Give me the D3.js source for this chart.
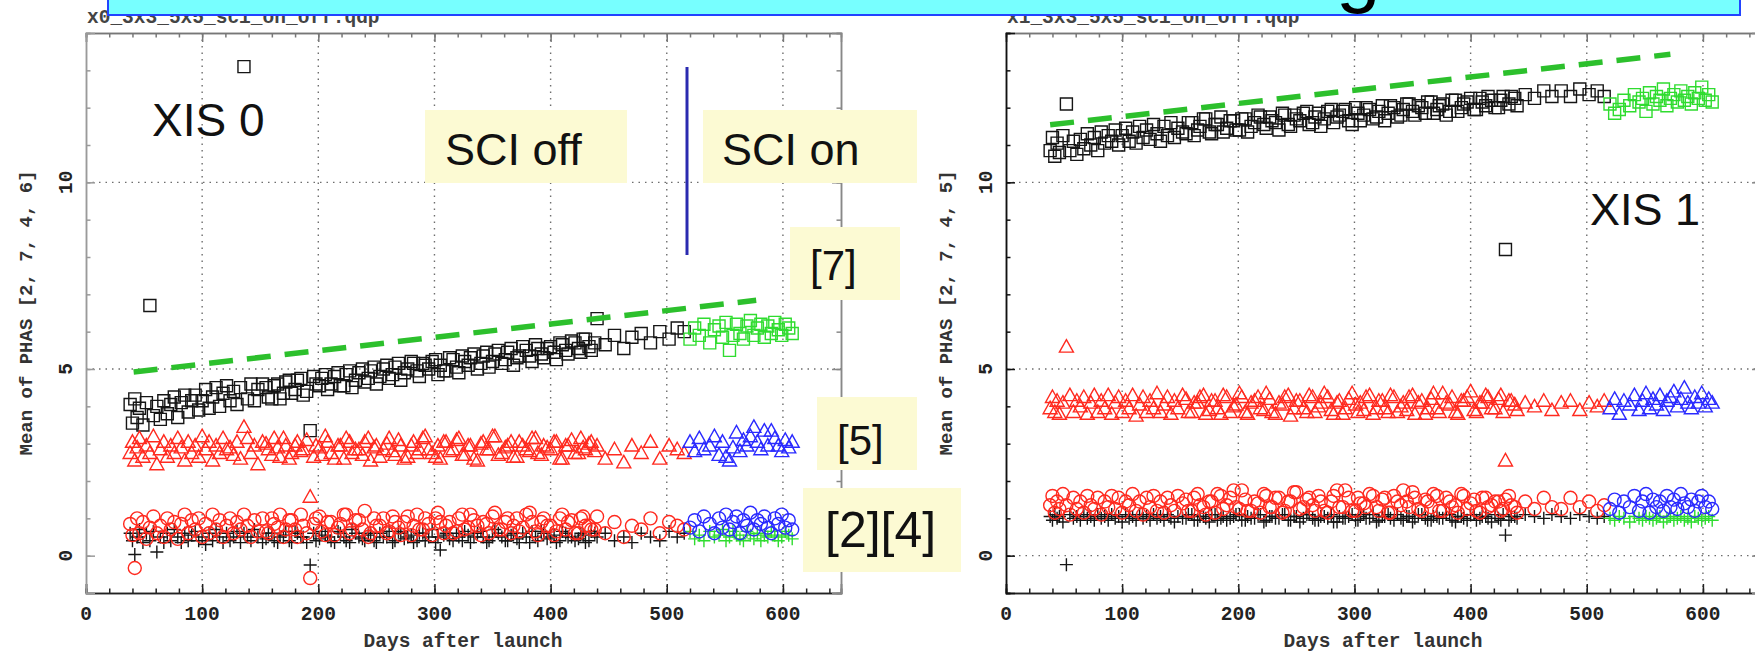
<!DOCTYPE html>
<html><head><meta charset="utf-8">
<script src="https://cdn.jsdelivr.net/npm/d3@7"></script>
<style>body{margin:0;background:#fff}svg{display:block}</style>
</head><body><svg id="c" width="1755" height="653"></svg>
<script>
// ---------- DATA ----------
const daysOff = [38,40,42,44,46,49,52,55,58,61,
 64,67,70,73,76,79,82,85,88,91,
 94,97,100,103,106,109,112,115,118,121,
 124,127,130,133,136,139,142,145,148,152,
 157,162,167,172,177,182,187,193,198,203,
 208,214,219,224,229,235,240,245,250,256,
 261,266,271,277,282,287,292,298,303,305,
 310,316,321,326,331,337,342,347,352,358,
 363,368,373,379,384,389,394,400,405,410,
 415,421,426,430,435,440,447,455,463,470,
 478,486,494,502,509,515];
const daysOff2 = [155,160,165,170,175,180,185,190,196,201,
 206,211,217,222,227,232,238,243,248,253,
 259,264,269,274,280,285,290,295,301,308,
 313,319,324,329,334,340,345,350,355,361,
 366,371,376,382,387,392,397,403,408,413,
 418,424,428,433,438];
const daysOn = [520,524,528,532,537,541,545,548,551,554,557,560,563,566,569,572,575,578,581,584,587,590,593,596,599,602,605,608];

// XIS 0
const sq0Off = [4.05,3.55,4.2,3.7,3.95,3.5,4.1,6.7,3.75,4.0,
 3.65,4.15,3.8,4.05,4.25,3.7,4.1,4.3,3.85,4.15,
 4.3,3.9,4.15,4.45,3.95,4.25,4.5,4.0,4.35,4.55,
 4.15,4.4,4.05,4.5,13.1,4.2,4.6,4.15,4.45,4.6,
 4.25,4.55,4.2,4.65,4.35,4.7,4.3,3.35,4.6,4.75,
 4.45,4.8,4.55,4.85,4.5,4.9,4.65,4.95,4.6,5.0,
 4.75,5.05,4.7,5.0,5.15,4.8,5.1,5.2,4.85,5.1,
 4.95,5.25,4.9,5.2,5.3,5.0,5.35,5.05,5.4,5.15,
 5.45,5.1,5.35,5.5,5.2,5.55,5.3,5.6,5.25,5.65,
 5.4,5.7,5.45,5.8,5.5,6.35,5.65,5.9,5.55,5.85,
 5.95,5.7,6.0,5.8,6.1,6.0];
const sq0Off2 = [4.5,4.2,4.6,4.35,4.7,4.45,4.75,4.4,4.8,4.55,
 4.85,4.6,4.9,4.55,4.95,4.7,5.0,4.75,5.05,4.8,
 5.1,4.85,5.15,4.9,5.2,4.95,5.15,5.0,5.25,4.95,
 5.3,5.05,5.35,5.1,5.4,5.15,5.45,5.2,5.5,5.25,
 5.55,5.3,5.6,5.35,5.65,5.4,5.55,5.45,5.7,5.5,
 5.75,5.55,5.8,5.6,5.7];
const sq0On = [5.8,6.1,5.9,6.2,5.7,6.05,6.15,5.85,6.25,5.5,5.9,6.2,5.95,5.8,6.15,6.3,5.9,6.1,6.2,5.85,6.15,5.95,6.25,6.05,5.9,6.2,6.1,5.95];
const tri0Off = [2.75,3.05,2.55,2.9,3.15,2.65,2.95,2.75,3.2,2.45,
 2.85,3.05,2.65,2.95,2.75,3.15,2.9,2.55,3.05,2.75,
 2.95,2.65,3.2,2.85,3.05,2.55,2.95,2.75,3.15,2.85,
 2.9,2.7,3.05,2.6,3.45,3.15,2.75,2.95,2.45,3.05,
 2.85,3.15,2.65,2.95,2.75,3.05,2.85,1.58,2.95,2.7,
 3.05,2.6,2.95,3.15,2.75,2.85,3.05,2.55,2.95,2.85,
 3.15,2.7,2.95,2.65,3.05,2.85,3.2,2.75,2.95,2.6,
 3.05,2.85,3.15,2.7,2.95,2.55,3.05,2.85,3.2,2.75,
 2.95,2.65,3.05,2.85,3.15,2.75,2.95,2.85,3.05,2.6,
 2.95,2.75,3.15,2.85,3.05,2.95,2.6,2.85,2.5,2.95,
 2.75,3.05,2.6,2.95,2.85,2.75];
const tri0Off2 = [3.0,2.7,2.9,3.15,2.6,2.95,2.8,3.1,2.65,2.9,
 3.2,2.75,2.95,2.6,3.05,2.85,2.7,3.15,2.9,2.65,
 3.0,2.8,3.1,2.6,2.95,2.75,3.15,2.85,2.65,3.05,
 2.8,3.1,2.7,2.95,2.6,3.0,2.85,3.2,2.7,2.9,
 3.05,2.65,2.95,2.8,3.15,2.7,2.9,3.05,2.6,2.95,
 3.1,2.75,2.9,3.0,2.8];
const tri0On = [3.05,2.8,3.15,2.85,2.95,3.2,2.7,3.05,2.65,2.55,2.9,3.3,2.8,3.1,2.95,3.2,3.45,3.05,2.85,3.35,2.95,3.35,3.15,2.95,2.8,3.1,2.9,3.05];
const circ0Off = [0.85,0.55,-0.33,1.0,0.6,0.9,0.45,0.75,1.05,0.6,
 0.8,0.5,1.0,0.7,0.9,0.45,0.85,1.1,0.6,0.95,
 0.7,1.0,0.5,0.85,0.6,1.1,0.7,0.95,0.5,0.8,
 1.0,0.6,0.9,0.7,1.1,0.8,0.5,0.95,0.65,1.0,
 0.6,0.85,1.1,0.7,0.95,0.5,0.8,-0.6,1.0,0.65,
 0.9,0.55,0.85,1.1,0.7,0.95,1.2,0.6,0.8,1.0,
 0.65,0.9,0.55,1.05,0.8,0.7,1.0,0.55,1.15,0.9,
 0.8,0.6,1.0,0.7,1.1,0.8,0.9,0.6,1.15,0.7,
 1.0,0.8,0.65,1.1,0.9,0.55,1.0,0.8,0.65,1.1,
 0.9,0.6,1.0,0.8,0.7,1.05,0.6,0.9,0.5,0.8,
 0.7,1.0,0.6,0.9,0.8,0.7];
const circ0Off2 = [0.65,1.0,0.75,0.5,0.95,0.7,1.1,0.6,0.85,1.05,
 0.55,0.9,0.75,1.1,0.6,0.95,0.7,0.5,1.0,0.8,
 0.6,1.05,0.75,0.9,0.55,1.1,0.7,0.85,1.0,0.6,
 0.9,0.65,1.1,0.75,0.95,0.55,0.85,1.05,0.7,0.9,
 0.6,1.0,0.75,1.15,0.65,0.9,0.8,0.55,1.0,0.7,
 0.95,0.6,1.05,0.8,0.7];
const circ0On = [0.75,0.95,0.65,1.05,0.85,0.6,1.0,0.75,1.1,0.7,0.9,1.05,0.6,0.95,0.8,1.15,0.7,0.95,0.85,1.05,0.75,0.6,1.0,0.85,1.1,0.75,0.95,0.7];
const plus0Off = [0.6,0.4,0.03,0.5,0.7,0.35,0.6,0.4,0.65,0.1,
 0.5,0.35,0.6,0.4,0.7,0.5,0.35,0.6,0.4,0.55,
 0.65,0.4,0.5,0.3,0.6,0.4,0.7,0.5,0.35,0.6,
 0.4,0.5,0.65,0.35,0.6,0.5,0.4,0.7,0.5,0.35,
 0.6,0.4,0.5,0.65,0.35,0.6,0.5,-0.25,0.4,0.65,
 0.5,0.35,0.6,0.4,0.7,0.5,0.4,0.6,0.35,0.5,
 0.65,0.4,0.6,0.5,0.35,0.6,0.4,0.7,0.5,0.15,
 0.6,0.4,0.5,0.65,0.35,0.6,0.5,0.4,0.7,0.5,
 0.4,0.6,0.35,0.5,0.65,0.4,0.6,0.5,0.35,0.65,
 0.5,0.4,0.6,0.35,0.65,0.5,0.6,0.4,0.5,0.35,
 0.6,0.5,0.4,0.65,0.5,0.6];
const plus0Off2 = [0.45,0.6,0.35,0.55,0.4,0.65,0.5,0.35,0.6,0.45,
 0.55,0.4,0.65,0.5,0.35,0.6,0.45,0.55,0.4,0.6,
 0.5,0.35,0.65,0.45,0.55,0.4,0.6,0.5,0.35,0.55,
 0.45,0.6,0.4,0.55,0.5,0.65,0.35,0.5,0.6,0.4,
 0.55,0.45,0.6,0.35,0.5,0.65,0.45,0.55,0.4,0.6,
 0.5,0.45,0.55,0.4,0.6];
const plus0On = [0.65,0.45,0.55,0.4,0.65,0.5,0.55,0.7,0.4,0.5,0.65,0.55,0.45,0.4,0.65,0.55,0.45,0.6,0.4,0.55,0.5,0.65,0.55,0.4,0.5,0.65,0.55,0.45];
const fit0Days = [41, 577];
const fit0Vals = [4.92, 6.84];

// XIS 1
const sq1Off = [10.85,11.2,10.7,11.05,10.8,11.25,12.1,10.85,11.1,10.75,
 11.15,10.9,11.3,11.0,11.2,10.85,11.35,11.05,11.25,11.1,
 11.4,11.0,11.25,11.45,11.1,11.35,11.05,11.5,11.2,11.4,
 11.15,11.55,11.3,11.1,11.5,11.25,11.6,11.2,11.45,11.35,
 11.6,11.25,11.5,11.7,11.3,11.55,11.35,11.65,11.4,11.7,
 11.35,11.6,11.75,11.45,11.65,11.4,11.8,11.5,11.7,11.85,
 11.55,11.75,11.5,11.9,11.6,11.8,11.95,11.55,11.85,11.65,
 12.0,11.7,11.9,11.65,12.05,11.75,11.95,12.1,11.8,12.0,
 12.15,11.85,12.05,11.8,12.2,11.9,12.1,12.25,11.95,12.15,
 12.3,12.0,12.2,8.2,12.3,12.05,12.35,12.25,12.45,12.3,
 12.45,12.3,12.5,12.35,12.45,12.3];
const sq1Off2 = [11.3,11.6,11.4,11.7,11.35,11.55,11.75,11.45,11.65,11.4,
 11.7,11.5,11.8,11.55,11.75,11.6,11.85,11.55,11.8,11.65,
 11.9,11.6,11.85,11.7,11.95,11.75,11.9,11.65,12.0,11.8,
 11.95,11.75,12.05,11.85,12.0,11.8,12.1,11.9,12.05,11.85,
 12.15,11.95,12.1,11.9,12.2,12.0,12.15,11.95,12.25,12.05,
 12.2,12.0,12.3,12.1,12.25];
const sq1On = [12.1,11.85,11.95,12.2,12.05,12.35,12.15,12.25,11.9,12.4,12.1,12.3,12.2,12.5,12.05,12.25,12.35,12.15,12.45,12.2,12.3,12.1,12.4,12.25,12.55,12.2,12.35,12.15];
const tri1Off = [3.95,4.25,3.85,4.15,3.8,4.1,5.6,4.3,3.85,4.15,
 4.0,4.25,3.8,4.1,4.3,3.85,4.15,3.95,4.3,3.8,
 4.1,4.25,3.85,4.15,3.95,4.3,3.75,4.05,4.25,3.85,
 4.15,3.95,4.35,3.85,4.05,4.25,3.8,4.15,3.95,4.3,
 3.85,4.1,4.25,3.8,4.15,3.95,4.3,3.85,4.05,4.25,
 3.8,4.15,3.95,4.35,3.85,4.1,4.25,3.75,4.15,3.95,
 4.3,3.85,4.1,4.25,3.8,4.15,3.95,4.35,3.85,4.1,
 4.25,3.8,4.15,3.95,4.3,3.85,4.1,4.25,3.8,4.15,
 3.95,4.35,3.85,4.1,4.25,3.8,4.15,4.4,3.85,4.1,
 4.25,3.95,4.3,2.55,4.15,3.9,4.1,4.0,4.15,3.9,
 4.1,4.15,3.9,4.1,4.0,4.15];
const tri1Off2 = [4.2,3.85,4.1,4.3,3.9,4.15,3.8,4.25,4.0,4.35,
 3.85,4.1,4.25,3.9,4.2,3.8,4.05,4.3,3.95,4.15,
 3.85,4.25,4.0,4.35,3.9,4.1,3.8,4.2,4.05,3.9,
 4.3,3.95,4.15,3.85,4.25,4.0,3.9,4.3,4.1,3.8,
 4.2,3.95,4.35,4.05,3.85,4.15,4.25,3.9,4.1,4.3,
 3.95,4.2,3.85,4.15,4.05];
const tri1On = [3.95,4.2,3.8,4.15,4.05,4.3,3.9,4.15,4.35,3.95,4.2,4.05,4.3,3.9,4.15,4.25,4.4,4.0,4.2,4.5,4.1,3.95,4.25,4.1,4.35,4.0,4.2,4.1];
const circ1Off = [1.35,1.6,1.15,1.45,1.25,1.65,1.35,1.1,1.55,1.25,
 1.45,1.15,1.6,1.35,1.25,1.55,1.1,1.45,1.3,1.6,
 1.25,1.55,1.15,1.45,1.35,1.65,1.2,1.45,1.1,1.55,
 1.3,1.6,1.2,1.45,1.15,1.55,1.35,1.2,1.6,1.4,
 1.2,1.55,1.35,1.1,1.45,1.65,1.25,1.55,1.3,1.75,
 1.2,1.45,1.15,1.6,1.3,1.55,1.2,1.45,1.7,1.3,
 1.55,1.2,1.45,1.15,1.6,1.3,1.75,1.2,1.55,1.4,
 1.3,1.6,1.2,1.55,1.15,1.45,1.75,1.3,1.55,1.2,
 1.45,1.65,1.2,1.55,1.3,1.15,1.6,1.4,1.2,1.55,
 1.3,1.45,1.2,1.5,1.35,1.15,1.45,1.25,1.55,1.3,
 1.25,1.55,1.3,1.45,1.2,1.35];
const circ1Off2 = [1.5,1.2,1.65,1.3,1.45,1.15,1.6,1.35,1.75,1.25,
 1.5,1.2,1.4,1.65,1.3,1.55,1.15,1.45,1.7,1.25,
 1.5,1.35,1.6,1.2,1.45,1.75,1.3,1.55,1.2,1.4,
 1.65,1.3,1.5,1.15,1.6,1.35,1.45,1.7,1.25,1.5,
 1.3,1.6,1.2,1.45,1.35,1.65,1.25,1.5,1.15,1.55,
 1.35,1.45,1.25,1.6,1.3];
const circ1On = [1.25,1.5,1.15,1.45,1.3,1.6,1.2,1.45,1.65,1.15,1.5,1.3,1.45,1.2,1.6,1.3,1.5,1.25,1.65,1.4,1.3,1.5,1.2,1.45,1.6,1.3,1.45,1.25];
const plus1Off = [1.05,0.95,1.1,1.0,1.05,0.9,-0.24,1.1,1.0,1.05,
 0.95,1.1,1.0,1.05,0.95,1.1,1.0,1.05,0.95,1.1,
 1.0,1.05,0.9,1.1,1.0,1.05,0.95,1.1,1.0,1.05,
 0.95,1.1,1.0,1.05,0.95,1.1,1.0,0.9,1.05,1.0,
 1.1,0.95,1.05,1.0,1.1,0.95,1.05,1.0,1.1,0.95,
 1.05,1.0,1.1,0.95,1.05,1.0,1.1,0.95,1.05,1.0,
 1.1,0.95,1.05,1.0,0.9,1.05,1.0,1.1,0.95,1.05,
 1.0,1.1,0.95,1.05,1.0,1.1,0.95,1.05,1.0,1.1,
 0.95,1.05,1.0,1.1,0.95,1.05,1.0,1.1,0.95,1.05,
 1.0,1.1,0.95,0.55,1.05,1.0,1.1,1.05,1.0,1.1,
 1.05,1.0,1.1,1.05,1.0,1.05];
const plus1Off2 = [1.0,1.1,0.95,1.05,0.9,1.1,1.0,0.95,1.05,1.1,
 0.95,1.0,1.1,0.9,1.05,1.0,1.1,0.95,1.05,0.9,
 1.1,1.0,0.95,1.05,1.1,0.9,1.0,1.05,0.95,1.1,
 1.0,0.9,1.05,1.1,0.95,1.0,1.05,0.9,1.1,1.0,
 0.95,1.05,1.0,1.1,0.9,1.05,0.95,1.1,1.0,1.05,
 0.9,1.0,1.1,0.95,1.05];
const plus1On = [1.0,0.95,1.05,1.0,0.9,1.05,1.0,0.95,1.05,1.0,0.95,1.0,1.05,0.9,1.0,1.05,0.95,1.0,1.05,0.95,1.0,0.9,1.05,1.0,0.95,1.0,1.05,0.95];
const fit1Days = [38, 572];
const fit1Vals = [11.54, 13.43];

const xTicks = [0,100,200,300,400,500,600];
const yTicks = [0,5,10];
const titles = ['x0_3x3_5x5_sci_on_off.qdp','x1_3x3_5x5_sci_on_off.qdp'];
const yLabels = ['Mean of PHAS [2, 7, 4, 6]','Mean of PHAS [2, 7, 4, 5]'];
const xLabel = 'Days after launch';

// ---------- DRAW ----------
const svg = d3.select('#c');
svg.append('rect').attr('width',1755).attr('height',653).attr('fill','#fff');
const MONO = "'Liberation Mono','DejaVu Sans Mono',monospace";
const SANS = "'Liberation Sans',Arial,sans-serif";

const y = d3.scaleLinear().domain([-1,14]).range([593,33]);

const shapes = {
  sq: 'M-6,-6h12v12h-12z',
  tri: 'M0,-7L7,5.5L-7,5.5Z',
  plus: 'M-6.5,0H6.5M0,-6.5V6.5'
};
const RED='#ff2a1f', BLUE='#2a2aff', GREEN='#2fdc2f', BLACK='#151515';

const panels = [
  {x0:86,
   sq:[[sq0Off,daysOff],[sq0Off2,daysOff2]], sqOn:sq0On,
   tri:[[tri0Off,daysOff],[tri0Off2,daysOff2]], triOn:tri0On,
   circ:[[circ0Off,daysOff],[circ0Off2,daysOff2]], circOn:circ0On,
   plus:[[plus0Off,daysOff],[plus0Off2,daysOff2]], plusOn:plus0On,
   fit:[fit0Days,fit0Vals], zeroGrid:false, leftCol:'#9a9a9a'},
  {x0:1006,
   sq:[[sq1Off,daysOff],[sq1Off2,daysOff2]], sqOn:sq1On,
   tri:[[tri1Off,daysOff],[tri1Off2,daysOff2]], triOn:tri1On,
   circ:[[circ1Off,daysOff],[circ1Off2,daysOff2]], circOn:circ1On,
   plus:[[plus1Off,daysOff],[plus1Off2,daysOff2]], plusOn:plus1On,
   fit:[fit1Days,fit1Vals], zeroGrid:true, leftCol:'#111'}
];

panels.forEach((p,pi)=>{
  const x = d3.scaleLinear().domain([0,650]).range([p.x0, p.x0+755]);
  const g = svg.append('g');
  const clipId = 'clip'+pi;
  svg.append('clipPath').attr('id',clipId).append('rect')
    .attr('x',p.x0).attr('y',33).attr('width',755).attr('height',560);

  // title
  g.append('text').attr('x',p.x0+1).attr('y',23).attr('font-family',MONO)
    .attr('font-size',19.5).attr('font-weight','bold').attr('fill','#444').text(titles[pi]);

  // grid
  const grid = g.append('g').attr('stroke','#6e6e6e').attr('stroke-width',1.4)
    .attr('stroke-dasharray','1.5,5');
  grid.selectAll('line.v').data(xTicks.filter(d=>d>0)).join('line')
    .attr('x1',d=>x(d)).attr('x2',d=>x(d)).attr('y1',33).attr('y2',593);
  grid.selectAll('line.h').data(yTicks.filter(d=>d>0 || p.zeroGrid)).join('line')
    .attr('x1',p.x0).attr('x2',p.x0+755).attr('y1',d=>y(d)).attr('y2',d=>y(d));

  // axes
  const minorX = d3.range(0,651,20), minorY = d3.range(-1,15,1);
  const ax = (gen, tx, ty, vals, size, col)=>{
    const a = g.append('g').attr('transform',`translate(${tx},${ty})`)
      .call(gen.tickValues(vals).tickSize(size).tickFormat(''));
    a.select('.domain').attr('stroke',col).attr('stroke-width',1.5);
    a.selectAll('.tick line').attr('stroke',col).attr('stroke-width',1.5);
    return a;
  };
  ax(d3.axisBottom(x), 0, 593, xTicks, -9, '#222');
  ax(d3.axisBottom(x), 0, 593, minorX, -4.5, '#222');
  ax(d3.axisTop(x), 0, 33, xTicks, -9, '#777');
  ax(d3.axisTop(x), 0, 33, minorX, -4.5, '#777');
  ax(d3.axisLeft(y), p.x0, 0, yTicks, -9, p.leftCol);
  ax(d3.axisLeft(y), p.x0, 0, minorY, -4.5, p.leftCol);
  ax(d3.axisRight(y), p.x0+755, 0, yTicks, -9, '#888');
  ax(d3.axisRight(y), p.x0+755, 0, minorY, -4.5, '#888');

  // tick labels
  g.selectAll('text.xt').data(xTicks).join('text')
    .attr('x',d=>x(d)).attr('y',620).attr('text-anchor','middle')
    .attr('font-family',MONO).attr('font-weight','bold').attr('font-size',19.5).attr('fill','#222').text(d=>d);
  g.selectAll('text.yt').data(yTicks).join('text')
    .attr('transform',d=>`translate(${p.x0-14},${y(d)}) rotate(-90)`)
    .attr('text-anchor','middle').attr('font-family',MONO).attr('font-weight','bold').attr('font-size',19.5)
    .attr('fill','#222').text(d=>d);
  g.append('text').attr('transform',`translate(${p.x0-54},313) rotate(-90)`)
    .attr('text-anchor','middle').attr('font-family',MONO).attr('font-weight','bold').attr('font-size',19)
    .attr('fill','#333').text(yLabels[pi]);
  g.append('text').attr('x',p.x0+377).attr('y',647).attr('text-anchor','middle')
    .attr('font-family',MONO).attr('font-weight','bold').attr('font-size',19.5).attr('fill','#333').text(xLabel);

  // data
  const d = g.append('g').attr('clip-path',`url(#${clipId})`);
  const pts = (vals, days) => vals.map((v,i)=>({x:days[i], v}));
  const drawPath = (vals, days, shape, col) => {
    d.append('g').selectAll('path').data(pts(vals,days)).join('path')
      .attr('d',shapes[shape]).attr('transform',q=>`translate(${x(q.x)},${y(q.v)})`)
      .attr('fill','none').attr('stroke',col).attr('stroke-width',1.4);
  };
  const drawCirc = (vals, days, col) => {
    d.append('g').selectAll('circle').data(pts(vals,days)).join('circle')
      .attr('cx',q=>x(q.x)).attr('cy',q=>y(q.v)).attr('r',6.5)
      .attr('fill','none').attr('stroke',col).attr('stroke-width',1.4);
  };
  p.sq.forEach(([v,dd])=>drawPath(v, dd, 'sq', BLACK));
  drawPath(p.sqOn, daysOn, 'sq', GREEN);
  p.tri.forEach(([v,dd])=>drawPath(v, dd, 'tri', RED));
  drawPath(p.triOn, daysOn, 'tri', BLUE);
  p.plus.forEach(([v,dd])=>drawPath(v, dd, 'plus', BLACK));
  drawPath(p.plusOn, daysOn, 'plus', GREEN);
  p.circ.forEach(([v,dd])=>drawCirc(v, dd, RED));
  drawCirc(p.circOn, daysOn, BLUE);

  // fit line
  d.append('line').attr('x1',x(p.fit[0][0])).attr('y1',y(p.fit[1][0]))
    .attr('x2',x(p.fit[0][1])).attr('y2',y(p.fit[1][1]))
    .attr('stroke','#2cc02c').attr('stroke-width',5.5).attr('stroke-dasharray','24,14');
});

// annotations
const ann = svg.append('g');
const box = (x0,y0,w,h)=>ann.append('rect').attr('x',x0).attr('y',y0).attr('width',w).attr('height',h).attr('fill','#fcfad3');
const lbl = (t,x0,y0,fs)=>ann.append('text').attr('x',x0).attr('y',y0).attr('font-family',SANS).attr('font-size',fs).attr('fill','#111').text(t);
box(425,110,202,73); lbl('SCI off',445,165,45);
box(703,110,214,73); lbl('SCI on',722,165,45);
box(790,227,110,73); lbl('[7]',810,280,42);
box(817,397,100,73); lbl('[5]',837,455,42);
box(803,488,158,84); lbl('[2][4]',825,547,50);
lbl('XIS 0',152,136,46);
lbl('XIS 1',1590,225,45);
ann.append('line').attr('x1',687).attr('x2',687).attr('y1',67).attr('y2',255)
  .attr('stroke','#2a2ab0').attr('stroke-width',3);

// top banner
svg.append('clipPath').attr('id','bclip').append('rect').attr('x',108).attr('y',0).attr('width',1632).attr('height',15);
svg.append('rect').attr('x',108).attr('y',-3).attr('width',1632).attr('height',18)
  .attr('fill','#77ffff').attr('stroke','#2244ff').attr('stroke-width',2);
svg.append('text').attr('clip-path','url(#bclip)').attr('x',1336).attr('y',-3)
  .attr('font-family',SANS).attr('font-size',80).attr('fill','#000').text('g');
</script></body></html>
